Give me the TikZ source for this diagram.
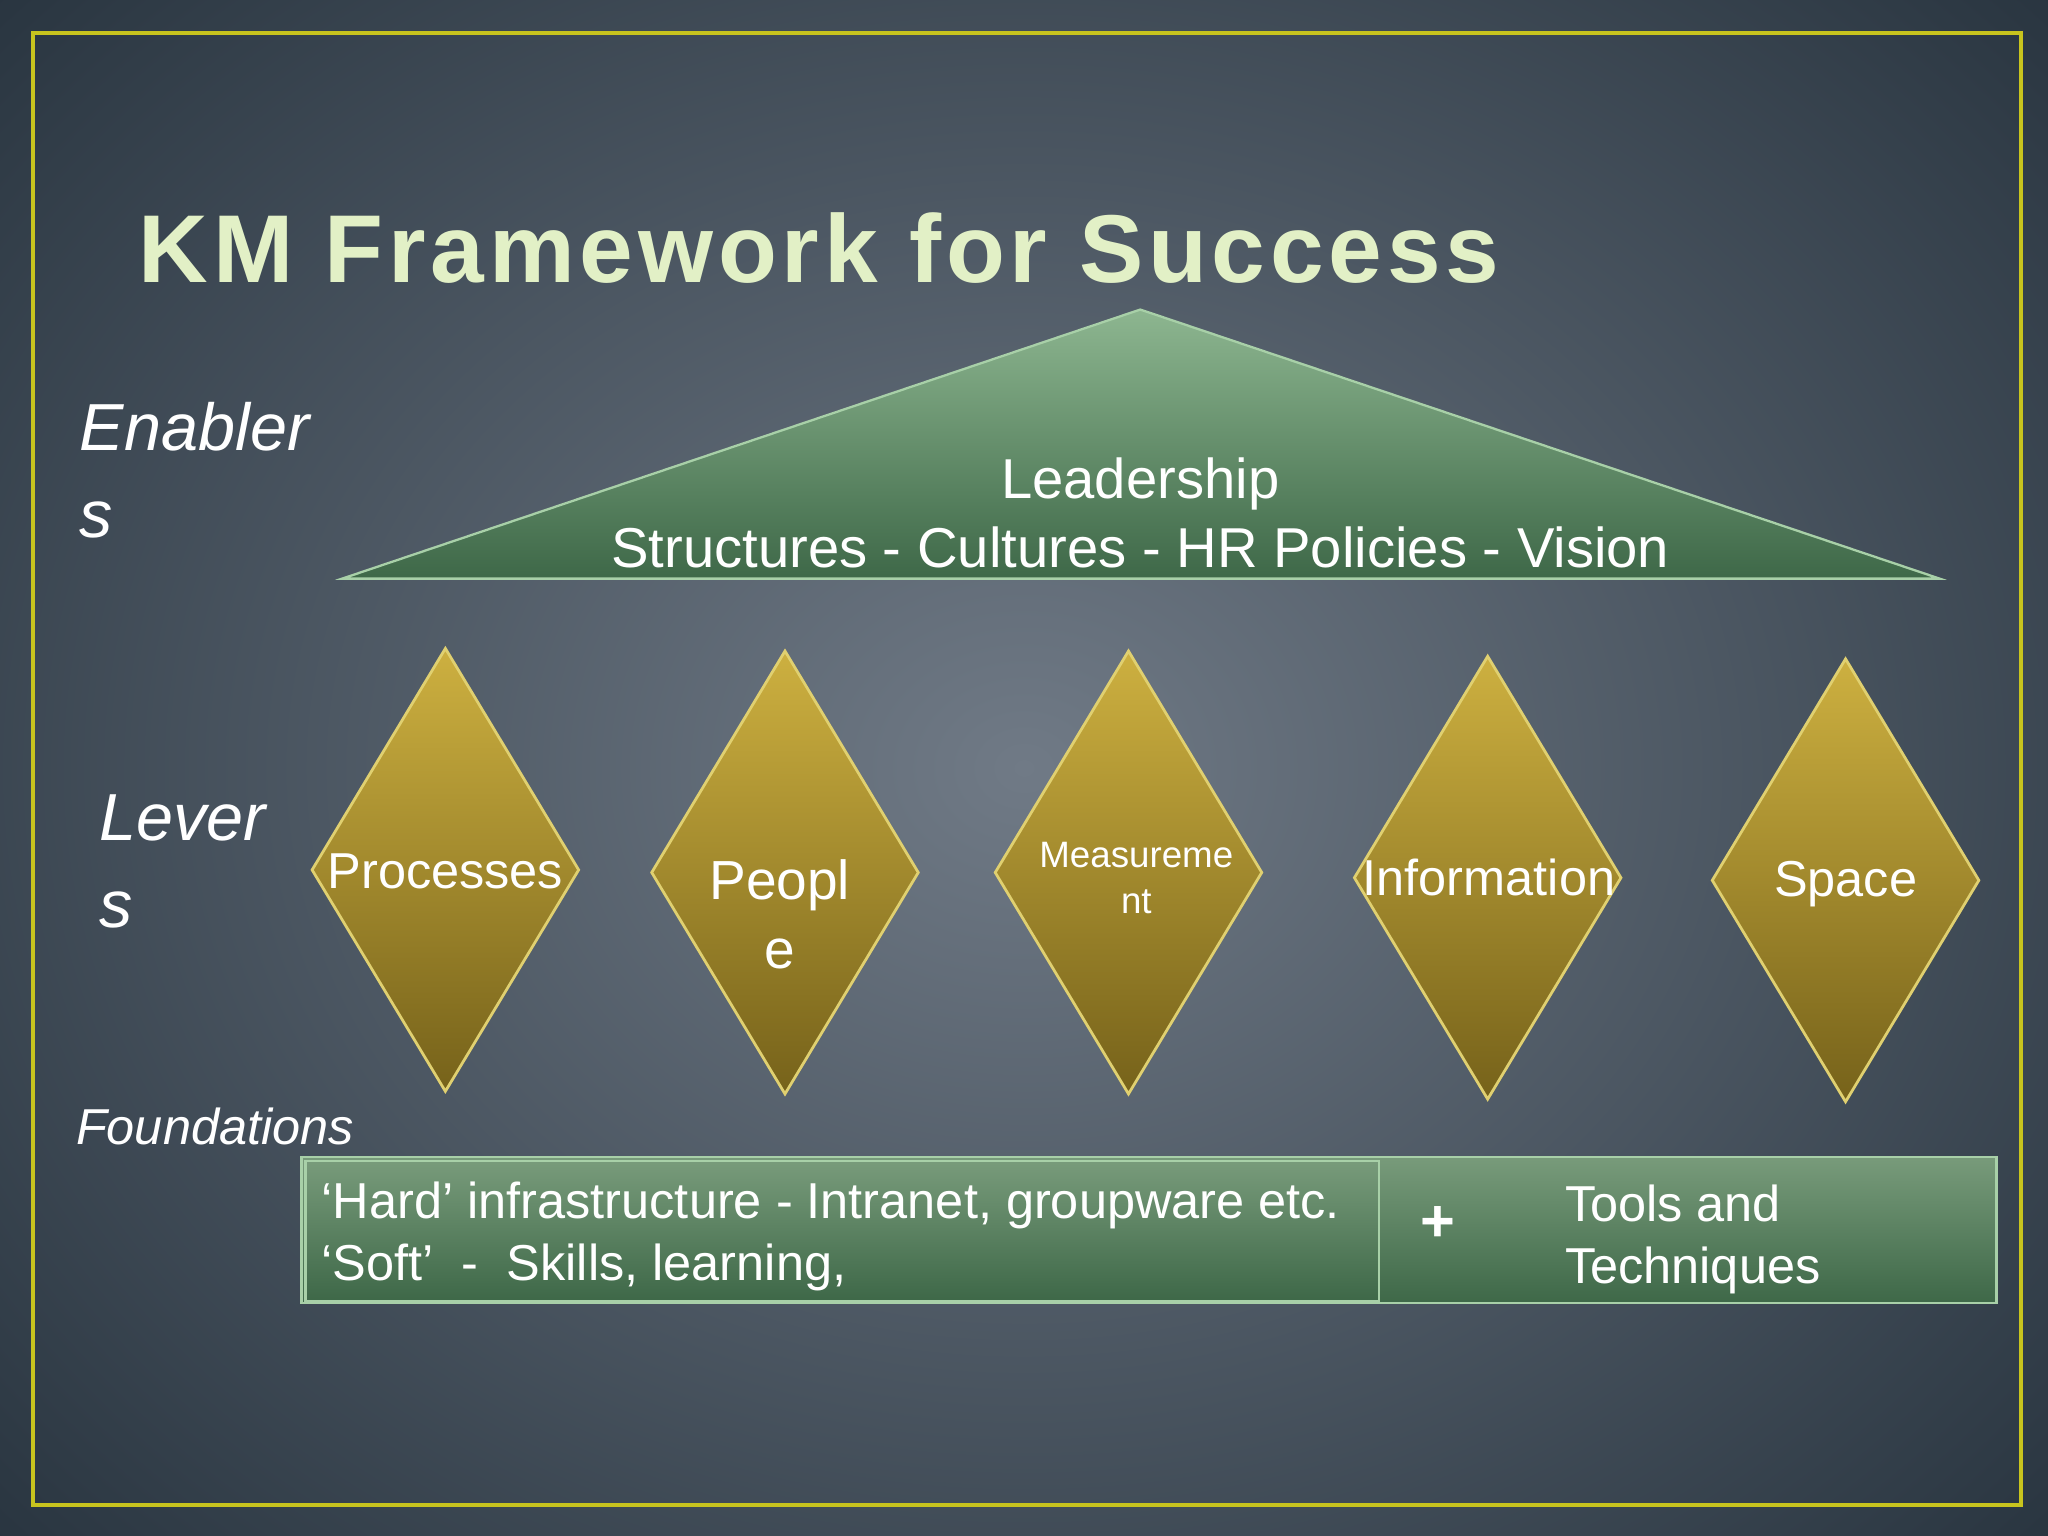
\documentclass[tikz,border=0pt]{standalone}
\usepackage{fontspec}
\setmainfont{Liberation Sans}
\usepackage{xcolor}
\definecolor{kmBgLight}{HTML}{707A86}
\definecolor{kmBgDark}{HTML}{28343F}
\definecolor{kmFrame}{HTML}{C8C41E}
\definecolor{kmTitle}{HTML}{E2F0C6}
\definecolor{kmGreenTop}{HTML}{8DB690}
\definecolor{kmGreenBot}{HTML}{3E6848}
\definecolor{kmGreenEdge}{HTML}{A8D0A8}
\definecolor{kmGoldTop}{HTML}{CDB040}
\definecolor{kmGoldBot}{HTML}{76621A}
\definecolor{kmGoldEdge}{HTML}{E0D070}
\usetikzlibrary{shapes.geometric,positioning}
\tikzset{
    lever/.style={
        diamond,
        draw=kmGoldEdge,
        line width=1.2pt,
        top color=kmGoldTop,
        bottom color=kmGoldBot,
        minimum width=4.1cm,
        minimum height=6.8cm,
        inner sep=0pt
    },
    levertext/.style={
        text=white,
        font=\fontsize{22}{28}\selectfont,
        align=center
    },
    sidelabel/.style={
        text=white,
        font=\itshape\fontsize{29}{38}\selectfont,
        align=left,
        anchor=north west
    },
    greenbox/.style={
        draw=kmGreenEdge,
        line width=1pt,
        top color=kmGreenTop!85!black,
        bottom color=kmGreenBot
    },
    bartext/.style={
        text=white,
        font=\fontsize{22}{27}\selectfont,
        align=left,
        anchor=north west
    }
}
\begin{document}
\begin{tikzpicture}[x=0.02cm,y=-0.02cm]
    % Background and frame
    \useasboundingbox (0,0) rectangle (1568,1176);
    \clip (0,0) rectangle (1568,1176);
    \shade[inner color=kmBgLight, outer color=kmBgDark] (-300,-300) rectangle (1868,1476);
    \draw[kmFrame, line width=1.8pt] (25,25) rectangle (1547,1152);

    % Title
    \node[anchor=west, text=kmTitle, font=\bfseries\fontsize{42}{50}\selectfont\addfontfeature{LetterSpace=5}] (title) at (100,190) {KM Framework for Success};

    % Roof
    \coordinate (apex) at (873,237);
    \coordinate (baseL) at (262,443);
    \coordinate (baseR) at (1485,443);
    \shade[top color=kmGreenTop, bottom color=kmGreenBot, draw=kmGreenEdge, line width=1pt] (apex) -- (baseR) -- (baseL) -- cycle;
    \node[text=white, font=\fontsize{24.5}{30}\selectfont, align=center] (roof) at (873,393) {Leadership\\Structures - Cultures - HR Policies - Vision};

    % Side labels
    \node[sidelabel] (enablers) at (55,302) {Enabler\\s};
    \node[sidelabel] (levers) at (70,602) {Lever\\s};
    \node[sidelabel, font=\itshape\fontsize{22}{24}\selectfont] (foundations) at (52,842) {Foundations};

    % Levers
    \node[lever] (processes) at (341,666) {};
    \node[lever] (people) at (601,668) {};
    \node[lever] (measurement) at (864,668) {};
    \node[lever] (information) at (1139,672) {};
    \node[lever] (space) at (1413,674) {};
    \node[levertext] at (341,667) {Processes};
    \node[levertext, font=\fontsize{24}{30}\selectfont] at (597,700) {Peopl\\e};
    \node[levertext, font=\fontsize{16}{20}\selectfont] at (870,672) {Measureme\\nt};
    \node[levertext] at (1140,672) {Information};
    \node[levertext] at (1413,677) {Space};

    % Foundations bar
    \node[greenbox, anchor=north west, minimum width=25.96cm, minimum height=2.24cm] (bar) at (230,885) {};
    \node[greenbox, anchor=north west, minimum width=16.44cm, minimum height=2.14cm] (infra) at (233,888) {};
    \node[bartext] (hardsoft) at (240,899) {‘Hard’ infrastructure - Intranet, groupware etc.\\‘Soft’\ \ -\ \ Skills, learning,};
    \node[text=white, font=\bfseries\fontsize{26}{30}\selectfont] (plus) at (1101,937) {+};
    \node[bartext] (tools) at (1192,901) {Tools and\\Techniques};
\end{tikzpicture}
\end{document}
